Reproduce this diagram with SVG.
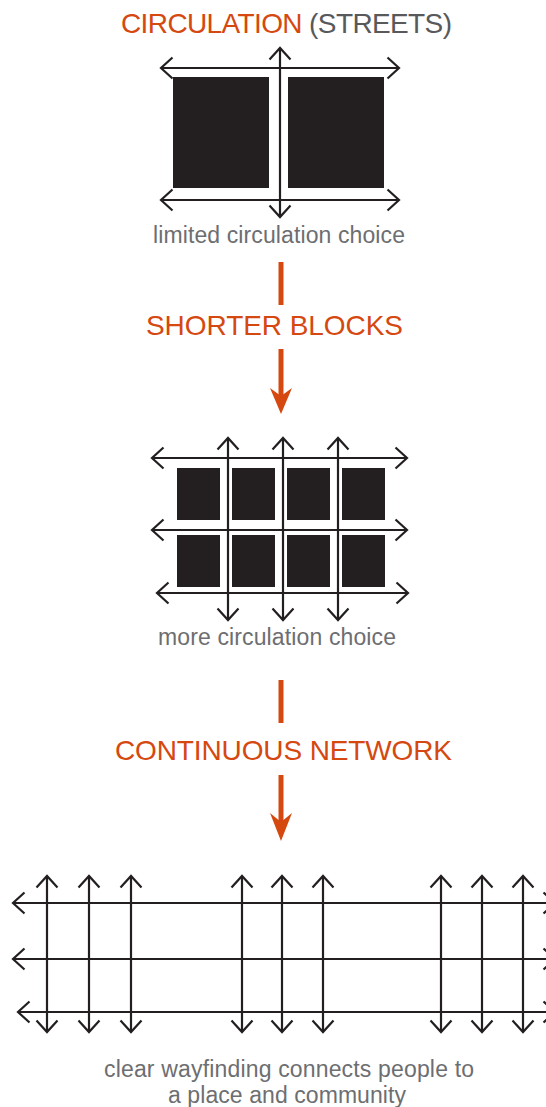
<svg xmlns="http://www.w3.org/2000/svg" width="546" height="1107" viewBox="0 0 546 1107">
<style>
.t{font-family:"Liberation Sans",Arial,sans-serif;}
.title{font-size:28px;fill:#d5480f;}
.gray{fill:#58595b;}
.cap{font-size:23px;fill:#6d6e71;}
.blk{fill:#231f20;}
.ln{stroke:#231f20;stroke-width:2.2;fill:none;marker-start:url(#ch);marker-end:url(#ch);}
.bar{stroke:#d5480f;stroke-width:5;fill:none;}
.head{fill:#d5480f;}
</style>
<defs>
<marker id="ch" viewBox="-14 -13 16 26" refX="0" refY="0" markerWidth="16" markerHeight="26" markerUnits="userSpaceOnUse" orient="auto-start-reverse" overflow="visible">
<path d="M-11.5,-10.5 L0,0 L-11.5,10.5" fill="none" stroke="#231f20" stroke-width="2.2"/>
</marker>
</defs>
<rect width="546" height="1107" fill="#ffffff"/>

<g id="title-circulation">
<text class="t title" x="121" y="33" textLength="331">CIRCULATION <tspan class="gray">(STREETS)</tspan></text>
</g>

<g id="node-limited">
<rect class="blk" x="173" y="77" width="96" height="111"/>
<rect class="blk" x="288" y="77" width="96" height="111"/>
</g>

<g id="node-more">
<rect class="blk" x="177" y="468" width="43" height="52"/>
<rect class="blk" x="232" y="468" width="43" height="52"/>
<rect class="blk" x="287" y="468" width="43" height="52"/>
<rect class="blk" x="342" y="468" width="43" height="52"/>
<rect class="blk" x="177" y="535" width="43" height="52"/>
<rect class="blk" x="232" y="535" width="43" height="52"/>
<rect class="blk" x="287" y="535" width="43" height="52"/>
<rect class="blk" x="342" y="535" width="43" height="52"/>
</g>

<g id="connectors">
<line class="ln" x1="161" y1="68" x2="399" y2="68"/>
<line class="ln" x1="161" y1="200" x2="399" y2="200"/>
<line class="ln" x1="280" y1="48" x2="280" y2="217"/>
<line class="ln" x1="152" y1="458" x2="407" y2="458"/>
<line class="ln" x1="152" y1="530" x2="407" y2="530"/>
<line class="ln" x1="157" y1="593" x2="408" y2="593"/>
<line class="ln" x1="228" y1="438" x2="228" y2="620"/>
<line class="ln" x1="283" y1="438" x2="283" y2="620"/>
<line class="ln" x1="338" y1="438" x2="338" y2="620"/>
<line class="ln" x1="13" y1="903" x2="555" y2="903"/>
<line class="ln" x1="13" y1="959" x2="555" y2="959"/>
<line class="ln" x1="18" y1="1012" x2="555" y2="1012"/>
<line class="ln" x1="47" y1="876" x2="47" y2="1032"/>
<line class="ln" x1="89" y1="876" x2="89" y2="1032"/>
<line class="ln" x1="131" y1="876" x2="131" y2="1032"/>
<line class="ln" x1="242" y1="876" x2="242" y2="1032"/>
<line class="ln" x1="282" y1="876" x2="282" y2="1032"/>
<line class="ln" x1="323" y1="876" x2="323" y2="1032"/>
<line class="ln" x1="441" y1="876" x2="441" y2="1032"/>
<line class="ln" x1="482" y1="876" x2="482" y2="1032"/>
<line class="ln" x1="523" y1="876" x2="523" y2="1032"/>
<line class="bar" x1="281" y1="262" x2="281" y2="305"/>
<line class="bar" x1="281" y1="349" x2="281" y2="398"/>
<path class="head" d="M281,414 L292,388 L281,396 L270,388 Z"/>
<line class="bar" x1="281" y1="680" x2="281" y2="723"/>
<line class="bar" x1="281" y1="775" x2="281" y2="823"/>
<path class="head" d="M281,841 L292,813 L281,822 L270,813 Z"/>
</g>

<g id="caption-limited">
<text class="t cap" x="153" y="243" textLength="252">limited circulation choice</text>
</g>
<g id="title-shorter">
<text class="t title" x="146" y="335" textLength="257">SHORTER BLOCKS</text>
</g>
<g id="caption-more">
<text class="t cap" x="158" y="645" textLength="238">more circulation choice</text>
</g>
<g id="title-continuous">
<text class="t title" x="115" y="760" textLength="337">CONTINUOUS NETWORK</text>
</g>
<g id="caption-network">
<text class="t cap" x="104" y="1077" textLength="370">clear wayfinding connects people to</text>
<text class="t cap" x="168" y="1103" textLength="238">a place and community</text>
</g>
</svg>
